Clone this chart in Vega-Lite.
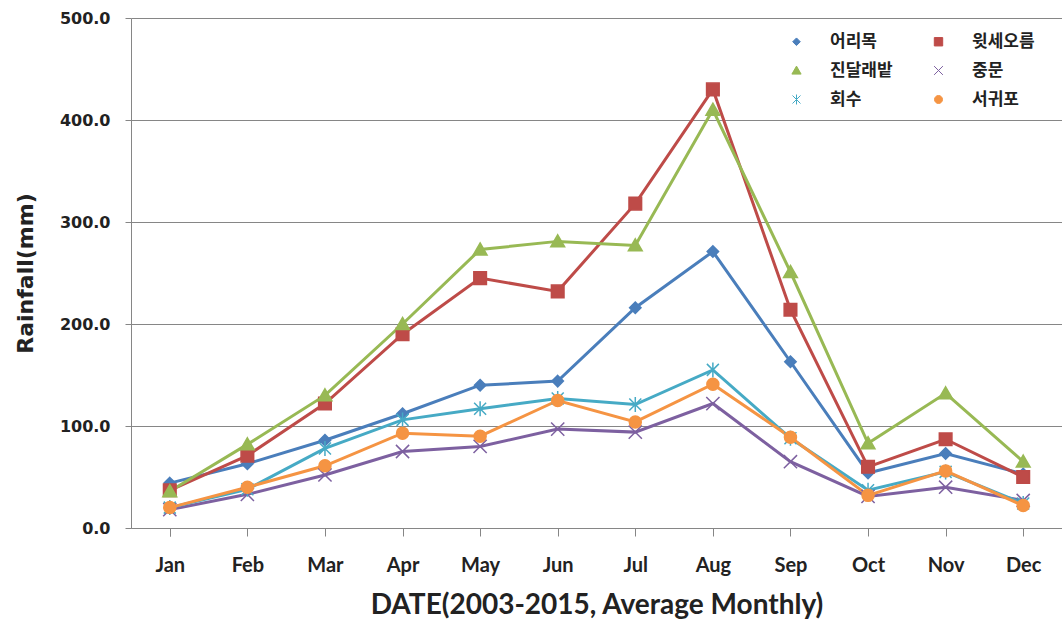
{
  "$schema": "https://vega.github.io/schema/vega-lite/v6.json",
  "width": 931,
  "height": 510,
  "autosize": {"type": "none"},
  "padding": {"left": 131, "top": 18, "right": 0, "bottom": 98},
  "background": "white",
  "config": {
    "view": {"stroke": null},
    "axis": {"domainColor": "#868686", "tickColor": "#868686", "gridColor": "#868686", "domainWidth": 1, "gridWidth": 1}
  },
  "data": {"values": [
    {"month": "Jan", "site": "어리목", "rain": 44}, {"month": "Feb", "site": "어리목", "rain": 63}, {"month": "Mar", "site": "어리목", "rain": 86}, {"month": "Apr", "site": "어리목", "rain": 112}, {"month": "May", "site": "어리목", "rain": 140}, {"month": "Jun", "site": "어리목", "rain": 144}, {"month": "Jul", "site": "어리목", "rain": 216}, {"month": "Aug", "site": "어리목", "rain": 271}, {"month": "Sep", "site": "어리목", "rain": 163}, {"month": "Oct", "site": "어리목", "rain": 54}, {"month": "Nov", "site": "어리목", "rain": 73}, {"month": "Dec", "site": "어리목", "rain": 53},
    {"month": "Jan", "site": "윗세오름", "rain": 37}, {"month": "Feb", "site": "윗세오름", "rain": 71}, {"month": "Mar", "site": "윗세오름", "rain": 122}, {"month": "Apr", "site": "윗세오름", "rain": 190}, {"month": "May", "site": "윗세오름", "rain": 245}, {"month": "Jun", "site": "윗세오름", "rain": 232}, {"month": "Jul", "site": "윗세오름", "rain": 318}, {"month": "Aug", "site": "윗세오름", "rain": 430}, {"month": "Sep", "site": "윗세오름", "rain": 214}, {"month": "Oct", "site": "윗세오름", "rain": 60}, {"month": "Nov", "site": "윗세오름", "rain": 87}, {"month": "Dec", "site": "윗세오름", "rain": 50},
    {"month": "Jan", "site": "진달래밭", "rain": 36}, {"month": "Feb", "site": "진달래밭", "rain": 82}, {"month": "Mar", "site": "진달래밭", "rain": 130}, {"month": "Apr", "site": "진달래밭", "rain": 200}, {"month": "May", "site": "진달래밭", "rain": 273}, {"month": "Jun", "site": "진달래밭", "rain": 281}, {"month": "Jul", "site": "진달래밭", "rain": 277}, {"month": "Aug", "site": "진달래밭", "rain": 410}, {"month": "Sep", "site": "진달래밭", "rain": 251}, {"month": "Oct", "site": "진달래밭", "rain": 83}, {"month": "Nov", "site": "진달래밭", "rain": 132}, {"month": "Dec", "site": "진달래밭", "rain": 65},
    {"month": "Jan", "site": "중문", "rain": 18}, {"month": "Feb", "site": "중문", "rain": 33}, {"month": "Mar", "site": "중문", "rain": 52}, {"month": "Apr", "site": "중문", "rain": 75}, {"month": "May", "site": "중문", "rain": 80}, {"month": "Jun", "site": "중문", "rain": 97}, {"month": "Jul", "site": "중문", "rain": 94}, {"month": "Aug", "site": "중문", "rain": 122}, {"month": "Sep", "site": "중문", "rain": 65}, {"month": "Oct", "site": "중문", "rain": 31}, {"month": "Nov", "site": "중문", "rain": 40}, {"month": "Dec", "site": "중문", "rain": 27},
    {"month": "Jan", "site": "회수", "rain": 20}, {"month": "Feb", "site": "회수", "rain": 38}, {"month": "Mar", "site": "회수", "rain": 78}, {"month": "Apr", "site": "회수", "rain": 106}, {"month": "May", "site": "회수", "rain": 117}, {"month": "Jun", "site": "회수", "rain": 127}, {"month": "Jul", "site": "회수", "rain": 121}, {"month": "Aug", "site": "회수", "rain": 155}, {"month": "Sep", "site": "회수", "rain": 88}, {"month": "Oct", "site": "회수", "rain": 37}, {"month": "Nov", "site": "회수", "rain": 55}, {"month": "Dec", "site": "회수", "rain": 24},
    {"month": "Jan", "site": "서귀포", "rain": 20}, {"month": "Feb", "site": "서귀포", "rain": 40}, {"month": "Mar", "site": "서귀포", "rain": 61}, {"month": "Apr", "site": "서귀포", "rain": 93}, {"month": "May", "site": "서귀포", "rain": 90}, {"month": "Jun", "site": "서귀포", "rain": 125}, {"month": "Jul", "site": "서귀포", "rain": 104}, {"month": "Aug", "site": "서귀포", "rain": 141}, {"month": "Sep", "site": "서귀포", "rain": 89}, {"month": "Oct", "site": "서귀포", "rain": 32}, {"month": "Nov", "site": "서귀포", "rain": 56}, {"month": "Dec", "site": "서귀포", "rain": 22}
  ]},
  "encoding": {
    "x": {
      "field": "month", "type": "ordinal",
      "sort": ["Jan","Feb","Mar","Apr","May","Jun","Jul","Aug","Sep","Oct","Nov","Dec"],
      "scale": {"type": "point", "padding": 0.5},
      "axis": {
        "title": "DATE(2003-2015,  Average Monthly)",
        "titleFont": "Lato", "titleFontSize": 28, "titleFontWeight": "bold", "titleColor": "#222222", "titlePadding": 16,
        "labelFont": "Lato", "labelFontSize": 20, "labelFontWeight": "bold", "labelColor": "#222222",
        "labelAngle": 0, "tickSize": 8, "labelPadding": 19, "grid": false, "tickBand": "extent"
      }
    },
    "y": {
      "field": "rain", "type": "quantitative",
      "scale": {"domain": [0, 500], "nice": false},
      "axis": {
        "title": "Rainfall(mm)", "values": [0, 100, 200, 300, 400, 500], "format": ".1f",
        "titleFont": "DejaVu Sans", "titleFontSize": 22, "titleFontWeight": "bold", "titleColor": "#222222", "titlePadding": 22,
        "labelFont": "DejaVu Sans", "labelFontSize": 16, "labelFontWeight": "bold", "labelColor": "#222222",
        "tickSize": 6, "labelPadding": 15, "grid": true
      }
    }
  },
  "layer": [
    {
      "mark": {"type": "line", "strokeWidth": 3},
      "encoding": {
        "color": {
          "field": "site", "type": "nominal",
          "sort": ["어리목","윗세오름","진달래밭","중문","회수","서귀포"],
          "scale": {"domain": ["어리목","윗세오름","진달래밭","중문","회수","서귀포"], "range": ["#4A7EBB","#BE4B48","#98B954","#7D60A0","#46AAC5","#F59443"]},
          "legend": {
            "title": null, "orient": "none", "legendX": 657, "legendY": 15, "columns": 2, "direction": "horizontal",
            "columnPadding": 37, "rowPadding": 11,
            "labelFont": "Noto Sans CJK KR", "labelFontSize": 17, "labelFontWeight": "bold", "labelColor": "#222222",
            "symbolSize": 64, "labelOffset": 25, "symbolStrokeWidth": 1,
            "encode": {"symbols": {"update": {
              "shape": {"value": {"expr": "'M-5.2,-0.4L5.2,-0.4L5.2,0.4L-5.2,0.4Z' + scale('shape', datum.value)"}},
              "fill": {"value": {"expr": "scale('color', datum.value)"}},
              "stroke": {"value": {"expr": "scale('color', datum.value)"}},
              "strokeWidth": {"value": 1}
            }}}
          }
        }
      }
    },
    {
      "mark": {"type": "point", "filled": true, "size": 144, "opacity": 1, "strokeWidth": 1.5},
      "encoding": {
        "color": {"field": "site", "type": "nominal", "legend": null},
        "stroke": {"field": "site", "type": "nominal", "scale": {"domain": ["어리목","윗세오름","진달래밭","중문","회수","서귀포"], "range": ["#4A7EBB","#BE4B48","#98B954","#7D60A0","#46AAC5","#F59443"]}, "legend": null},
        "shape": {
          "field": "site", "type": "nominal", "legend": null,
          "scale": {"domain": ["어리목","윗세오름","진달래밭","중문","회수","서귀포"], "range": [
            "M0,-0.95L0.95,0L0,0.95L-0.95,0Z",
            "M-1.05,-1.05L1.05,-1.05L1.05,1.05L-1.05,1.05Z",
            "M0,-1.1L1.15,0.9L-1.15,0.9Z",
            "M-1.1,-1.1L1.1,1.1M-1.1,1.1L1.1,-1.1",
            "M-1,-1L1,1M-1,1L1,-1M0,-1.25L0,1.25",
            "M1,0A1,1,0,1,1,-1,0A1,1,0,1,1,1,0Z"
          ]}
        }
      }
    }
  ]
}
